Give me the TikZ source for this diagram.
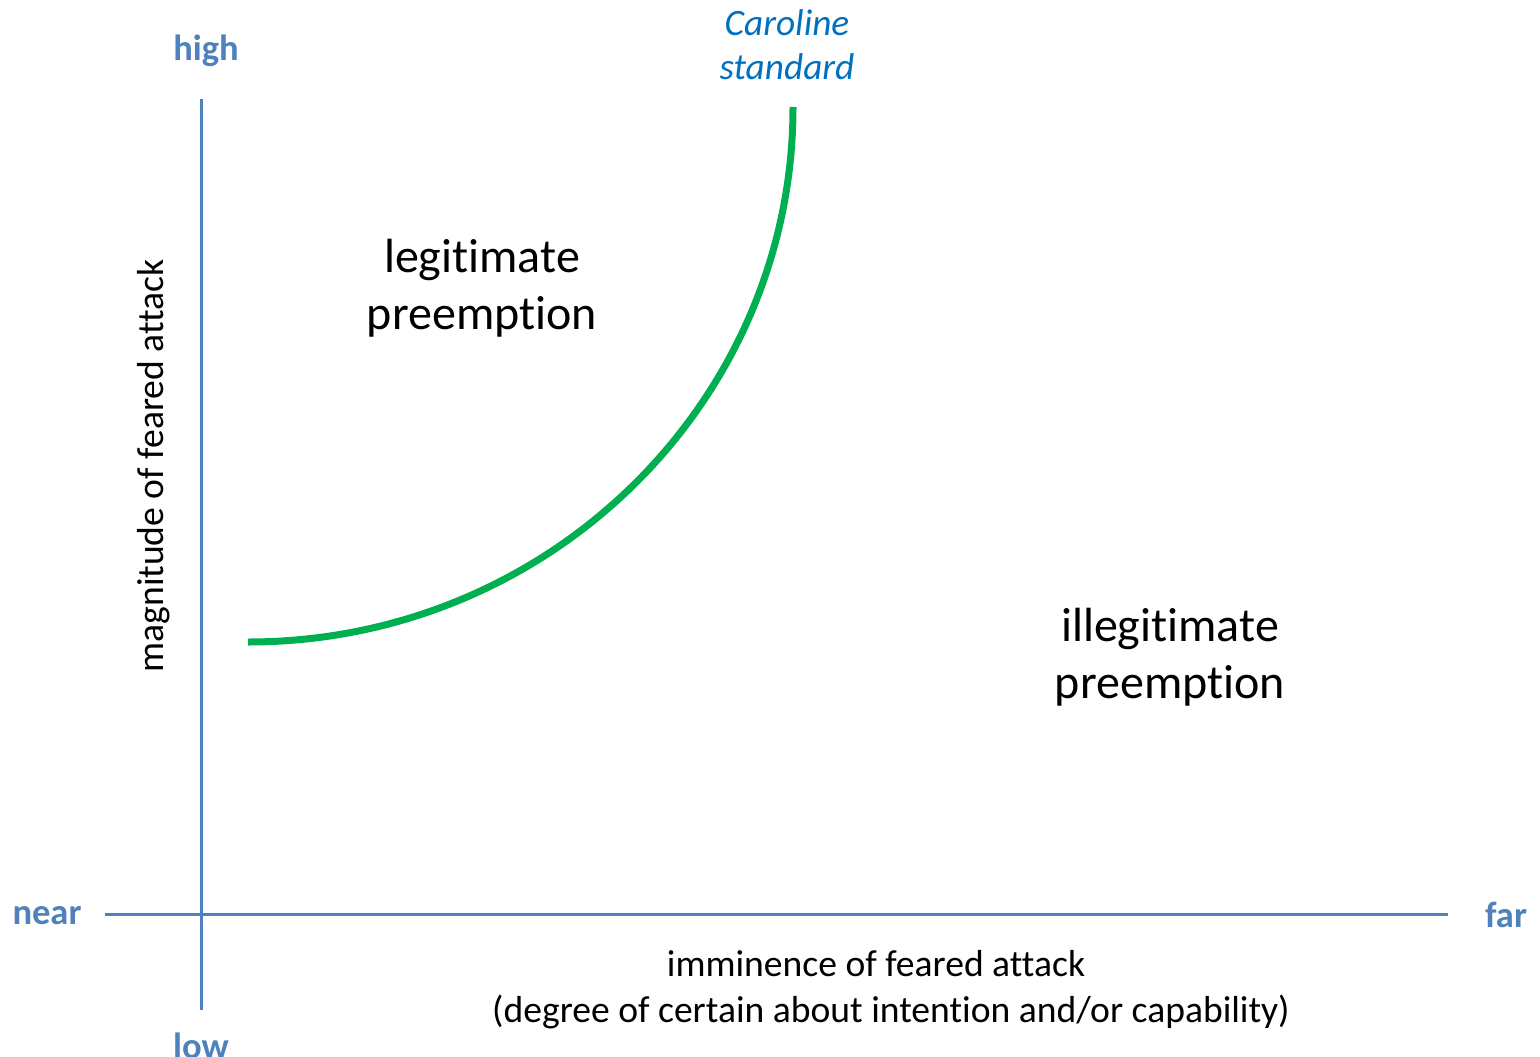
\documentclass[tikz,border=0pt]{standalone}
\usepackage{fontspec}
\setmainfont{Carlito}[Ligatures={NoCommon,NoContextual,NoRare},Contextuals=NoAlternate]
\definecolor{axisblue}{HTML}{4F81BD}
\definecolor{stdblue}{HTML}{0070C0}
\definecolor{curvegreen}{HTML}{00B050}
\begin{document}
\begin{tikzpicture}[x=1pt,y=-1pt,
  axisline/.style={draw=axisblue,line width=3pt},
  endlabel/.style={text=axisblue,font=\fontsize{36.5}{40}\selectfont\bfseries,inner sep=0pt},
  region/.style={align=center,font=\fontsize{48}{57}\selectfont,inner sep=0pt},
  axistitle/.style={align=center,font=\fontsize{37.6}{49}\selectfont,inner sep=0pt}]
\path[use as bounding box] (0,0) rectangle (1540,1057);

% axes
\coordinate (ytop) at (201,99);
\coordinate (ybot) at (201,1010);
\coordinate (xleft) at (105,914);
\coordinate (xright) at (1448,914);
\draw[axisline] (ybot) -- (ytop);
\draw[axisline] (xleft) -- (xright);

% axis end labels
\node[endlabel] (high) at (206,51) {high};
\node[endlabel] (low) at (201,1046) {low};
\node[endlabel] (near) at (47,916) {near};
\node[endlabel] (far) at (1506,915) {far};

% axis titles
\node[axistitle,rotate=90] (ytitle) at (154,466) {magnitude of feared attack};
\node[axistitle] (xtitle) at (876,964) {imminence of feared attack};
\node[axistitle] (xsub) at (891,1012) {(degree of certain about intention and/or capability)};

% boundary curve
\coordinate (cstart) at (248,642);
\coordinate (cend) at (793,107);
\draw[curvegreen,line width=7pt] (cstart) .. controls (549,642) and (793,402) .. (cend);
\node[text=stdblue,align=center,font=\fontsize{37.3}{44}\selectfont\itshape,inner sep=0pt] (caroline) at (787,45) {Caroline\\standard};

% regions
\node[region] (legit) at (482,288) {legitimate\\preemption};
\node[region] (illegit) at (1170,657) {illegitimate\\preemption};
\end{tikzpicture}
\end{document}
